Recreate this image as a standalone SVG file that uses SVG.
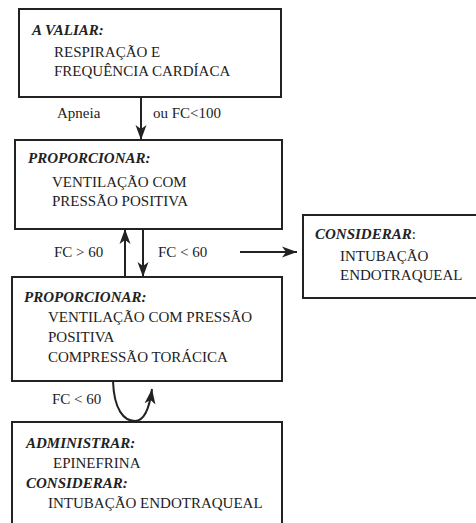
<svg xmlns="http://www.w3.org/2000/svg" width="476" height="523" viewBox="0 0 476 523">
<style>
.box{fill:#fff;stroke:#222;stroke-width:2}
.t{font-family:"Liberation Serif","Times New Roman",serif;font-size:15px;fill:#222}
.h{font-weight:bold;font-style:italic}
.c{fill:none;stroke:#222;stroke-width:2}
</style>
<defs>
<marker id="ah" markerUnits="userSpaceOnUse" markerWidth="17" markerHeight="13" refX="15" refY="6" orient="auto">
<path d="M0,0.5 L15,6 L0,11.5 L4,6 Z" fill="#222"/>
</marker>
</defs>
<rect width="476" height="523" fill="#fff"/>
<g id="n1">
<rect class="box" x="19" y="9" width="262" height="88"/>
<text class="t h" x="32" y="35">A VALIAR:</text>
<text class="t" x="54" y="57">RESPIRAÇÃO E</text>
<text class="t" x="54" y="76">FREQUÊNCIA CARDÍACA</text>
</g>
<g id="n2">
<rect class="box" x="15" y="140" width="267" height="89"/>
<text class="t h" x="28" y="163">PROPORCIONAR:</text>
<text class="t" x="52" y="187">VENTILAÇÃO COM</text>
<text class="t" x="52" y="206">PRESSÃO POSITIVA</text>
</g>
<g id="n3">
<rect class="box" x="303" y="215" width="180" height="83"/>
<text class="t" x="315" y="239"><tspan class="h">CONSIDERAR</tspan>:</text>
<text class="t" x="340" y="261">INTUBAÇÃO</text>
<text class="t" x="340" y="280">ENDOTRAQUEAL</text>
</g>
<g id="n4">
<rect class="box" x="12" y="277" width="270" height="104"/>
<text class="t h" x="24" y="302">PROPORCIONAR:</text>
<text class="t" x="48" y="322">VENTILAÇÃO COM PRESSÃO</text>
<text class="t" x="48" y="342">POSITIVA</text>
<text class="t" x="48" y="362">COMPRESSÃO TORÁCICA</text>
</g>
<g id="n5">
<rect class="box" x="12" y="422" width="270" height="120"/>
<text class="t h" x="26" y="448">ADMINISTRAR:</text>
<text class="t" x="53" y="468">EPINEFRINA</text>
<text class="t h" x="26" y="488">CONSIDERAR:</text>
<text class="t" x="48" y="508">INTUBAÇÃO ENDOTRAQUEAL</text>
</g>
<g id="connectors">
<line class="c" x1="141" y1="97" x2="141" y2="140" marker-end="url(#ah)"/>
<text class="t" x="57" y="118">Apneia</text>
<text class="t" x="153" y="118">ou FC&lt;100</text>
<line class="c" x1="125" y1="277" x2="125" y2="229" marker-end="url(#ah)"/>
<line class="c" x1="143" y1="229" x2="143" y2="277" marker-end="url(#ah)"/>
<text class="t" x="54" y="257">FC &gt; 60</text>
<text class="t" x="158" y="257">FC &lt; 60</text>
<line class="c" x1="240" y1="252" x2="297" y2="252" marker-end="url(#ah)"/>
<path class="c" d="M113,381 C114,410 124,421 135,421 C146,421 150,404 152,389" marker-end="url(#ah)"/>
<text class="t" x="52" y="404">FC &lt; 60</text>
</g>
</svg>
